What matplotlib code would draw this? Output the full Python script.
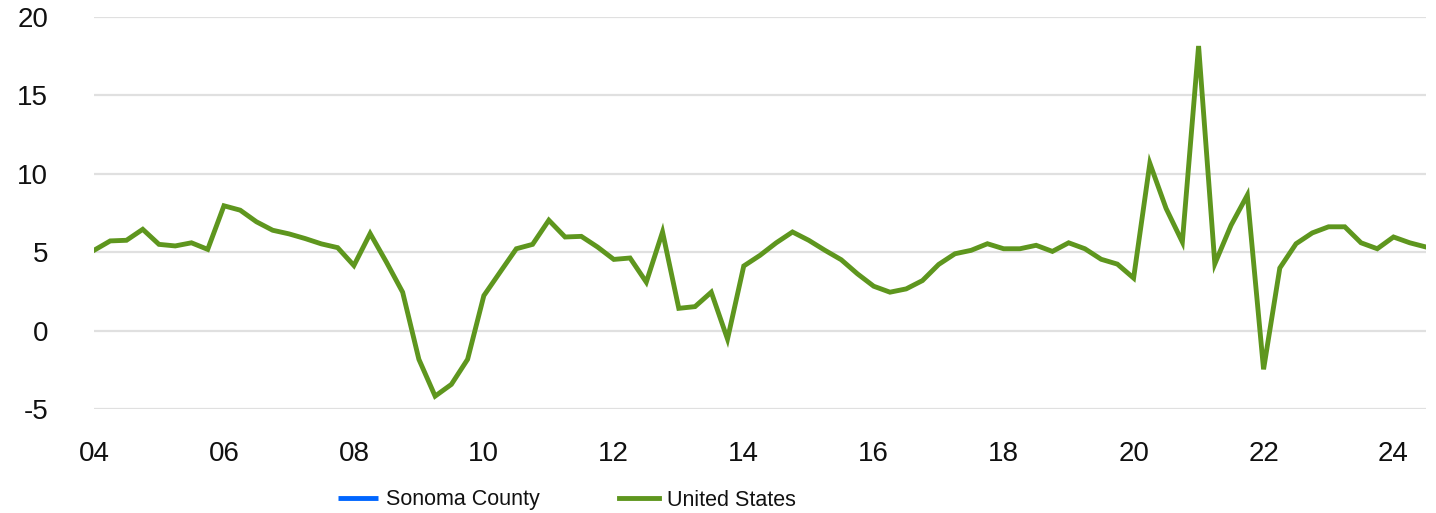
import matplotlib
matplotlib.use("Agg")
import matplotlib.pyplot as plt
import numpy as np

plt.rcParams['font.family'] = ['Liberation Sans', 'DejaVu Sans']

start_year = 2004
us_values = [
    5.12, 5.72, 5.76, 6.46, 5.50, 5.40, 5.60, 5.18,
    7.96, 7.68, 6.94, 6.40, 6.17, 5.87, 5.53, 5.29,
    4.15, 6.19, 4.37, 2.45, -1.83, -4.18, -3.43, -1.83,
    2.23, 3.73, 5.22, 5.50, 7.04, 5.97, 6.01, 5.33,
    4.54, 4.63, 3.09, 6.29, 1.42, 1.53, 2.45, -0.54,
    4.12, 4.80, 5.60, 6.29, 5.76, 5.12, 4.52, 3.62,
    2.83, 2.45, 2.66, 3.19, 4.22, 4.90, 5.12, 5.54,
    5.22, 5.22, 5.44, 5.05, 5.60, 5.22, 4.55, 4.24,
    3.35, 10.67, 7.79, 5.65, 18.15, 4.26, 6.72, 8.64,
    -2.47, 3.99, 5.54, 6.23, 6.62, 6.62, 5.60, 5.22,
    5.97, 5.60, 5.33,
]
sonoma_values = []  # not drawn in the reference (legend entry only)

x_tick_years = list(range(2004, 2025, 2))
x_tick_labels = [f"{y % 100:02d}" for y in x_tick_years]
y_ticks = [-5, 0, 5, 10, 15, 20]

us_x = [start_year + i / 4 for i in range(len(us_values))]
sonoma_x = [start_year + i / 4 for i in range(len(sonoma_values))]

W, H = 1436, 513
fig = plt.figure(figsize=(W / 100, H / 100), dpi=100)
left, right = 94 / W, 1426 / W
bottom, top = 1 - 409 / H, 1 - 17 / H
ax = fig.add_axes([left, bottom, right - left, top - bottom])

ax.plot(sonoma_x, sonoma_values, color='#0066ff', linewidth=3.5,
        label='Sonoma County', solid_capstyle='butt')
ax.plot(us_x, us_values, color='#5e961e', linewidth=3.5,
        label='United States', solid_joinstyle='miter', zorder=3)

ax.set_xlim(us_x[0], us_x[-1])
ax.set_ylim(-5, 20)
ax.set_yticks(y_ticks)
ax.set_yticklabels([str(v) for v in y_ticks])
ax.set_xticks(x_tick_years)
ax.set_xticklabels(x_tick_labels)

for s in ax.spines.values():
    s.set_visible(False)
ax.grid(axis='y', color='#e0e0e0', linewidth=1.6, zorder=0)
ax.grid(axis='x', visible=False)
ax.tick_params(axis='both', length=0, labelsize=20, colors='#111111')
ax.tick_params(axis='y', pad=33)
ax.tick_params(axis='x', pad=23)
for lab in ax.get_yticklabels():
    lab.set_horizontalalignment('right')

leg = fig.legend(loc='center left', bbox_to_anchor=(338 / W, 1 - 500 / H),
                 bbox_transform=fig.transFigure, ncol=2, frameon=False,
                 prop={'family': ['Liberation Sans', 'DejaVu Sans'], 'size': 15.5},
                 handlelength=1.86, handletextpad=0.37,
                 columnspacing=3.7, borderpad=0, borderaxespad=0)
for t in leg.get_texts():
    t.set_color('#111111')

fig.savefig('out.png', dpi=100)
